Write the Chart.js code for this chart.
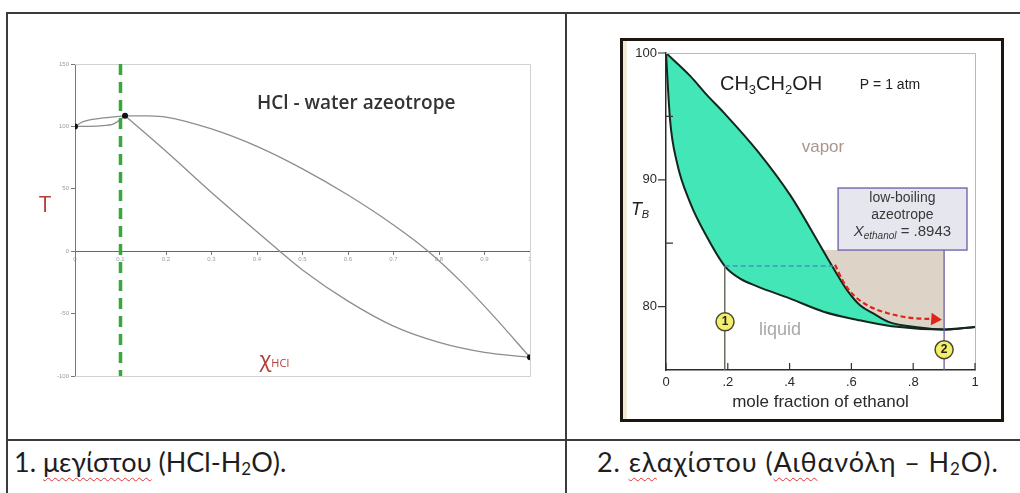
<!DOCTYPE html>
<html>
<head>
<meta charset="utf-8">
<script src="https://cdn.jsdelivr.net/npm/chart.js@4.4.1/dist/chart.umd.min.js"></script>
<style>
  html, body { margin: 0; padding: 0; background: #fff; }
  body { position: relative; width: 1020px; height: 493px; overflow: hidden; }
  .rule { position: absolute; background: #3b3b3b; }
  #hclChart { position: absolute; left: 8px; top: 14px; }
  #frame { position: absolute; left: 620px; top: 38px; width: 384px; height: 384px; box-sizing: border-box;
           border: 3px solid #1d160e; box-shadow: inset 4px 0 0 #f1ead8; }
  #ethChart { position: absolute; left: 623px; top: 41px; }
  .cap { position: absolute; top: 444px; font: 27px/36px Lato, 'Noto Sans', sans-serif; color: #1e1e1e; white-space: nowrap; }
  .cap sub { font-size: 17px; vertical-align: -3px; line-height: 0; }
  .spell { text-decoration: underline wavy #e0342f; text-decoration-thickness: 1px; text-underline-offset: 5px; }
</style>
</head>
<body>
<div class="rule" style="left:6px;top:12px;width:1014px;height:2px"></div>
<div class="rule" style="left:6px;top:12px;width:2px;height:481px"></div>
<div class="rule" style="left:565px;top:12px;width:2px;height:481px"></div>
<div class="rule" style="left:6px;top:439px;width:1014px;height:2px"></div>

<canvas id="hclChart" width="557" height="425"></canvas>
<div id="frame"></div>
<canvas id="ethChart" width="378" height="378"></canvas>

<div class="cap" style="left:14px">1. <span class="spell">μεγίστου</span> (HCl-H<sub>2</sub>O).</div>
<div class="cap" style="left:597px;letter-spacing:0.9px">2. <span class="spell">ελ</span>αχίστου (<span class="spell">Αιθ</span>ανόλη – H<sub>2</sub>O).</div>

<script>
// --- HCl / water (maximum boiling azeotrope) ---
const hclVapX = [0, 0.018, 0.055, 0.11, 0.16, 0.2, 0.3, 0.4, 0.5, 0.6, 0.7, 0.776, 0.85, 0.92, 1];
const hclVapT = [100, 103.8, 106.5, 108.5, 108.4, 107.5, 98, 84, 66, 45, 21, 0, -25, -52, -85];
const hclLiqX = [0, 0.055, 0.085, 0.11, 0.2, 0.3, 0.4, 0.45, 0.5, 0.6, 0.7, 0.8, 0.9, 1];
const hclLiqT = [100, 100.5, 102, 108.5, 80, 47, 15.5, 0, -15, -40, -60, -73, -81, -85];
const hclDotX = [0, 0.11, 1];
const hclDotT = [100, 108.5, -85];
const hclAzeoX = 0.1;
const hclTMin = -100, hclTMax = 150;

// --- ethanol / water (minimum boiling azeotrope) ---
const ethBubX = [0, 0.013, 0.035, 0.078, 0.13, 0.19, 0.24, 0.295, 0.40, 0.51, 0.62, 0.73, 0.8943, 1];
const ethBubT = [100, 94.75, 91.4, 88.2, 85.6, 83.2, 82.2, 81.6, 80.65, 79.6, 78.95, 78.45, 78.2, 78.4];
const ethDewX = [0, 0.078, 0.132, 0.187, 0.295, 0.403, 0.49, 0.54, 0.586, 0.628, 0.675, 0.72, 0.82, 0.8943, 1];
const ethDewT = [100, 98.2, 96.7, 95.3, 92.3, 88.75, 85.2, 83.1, 81.3, 80.1, 79.4, 78.8, 78.35, 78.2, 78.4];
const ethTieX = [0.19, 0.54];
const ethTieT = 83.2;
const ethShadeX = [0.51, 0.9];
const ethShadeT = 84.46;
const ethArrowX = [0.547, 0.573, 0.605, 0.66, 0.715, 0.78, 0.87];
const ethArrowT = [83.3, 82.0, 80.95, 80.0, 79.5, 79.15, 79.0];
const ethMarkX = [0.191, 0.9];
const ethMarkT = [78.8, 76.6];
const ethMarkLabels = ['1', '2'];
const ethTMin = 75, ethTMax = 100;

const pts = (xs, ys) => xs.map((x, i) => ({ x, y: Array.isArray(ys) ? ys[i] : ys }));
const sans = "'Liberation Sans', Arial, sans-serif";

Chart.defaults.font.family = sans;
Chart.defaults.animation = false;

// split a curve at the azeotrope so each branch is smoothed on its own
const hclAzeoIdx = hclVapX.indexOf(hclDotX[1]);
const hclLiqIdx = hclLiqX.indexOf(hclDotX[1]);
const hclBranches = [
  pts(hclVapX.slice(0, hclAzeoIdx + 1), hclVapT.slice(0, hclAzeoIdx + 1)),
  pts(hclVapX.slice(hclAzeoIdx), hclVapT.slice(hclAzeoIdx)),
  pts(hclLiqX.slice(0, hclLiqIdx + 1), hclLiqT.slice(0, hclLiqIdx + 1)),
  pts(hclLiqX.slice(hclLiqIdx), hclLiqT.slice(hclLiqIdx)),
];

// draws boxes and text runs at data positions; cfg is read directly
function notesPlugin(cfg) {
  return {
    id: 'notes',
    afterDatasetsDraw(chart) {
      const { ctx, scales: { x, y } } = chart;
      ctx.save();
      for (const b of cfg.boxes || []) {
        const l = x.getPixelForValue(b.x1), r = x.getPixelForValue(b.x2);
        const t = y.getPixelForValue(b.y1), bt = y.getPixelForValue(b.y2);
        ctx.fillStyle = b.fill;
        ctx.fillRect(l, t, r - l, bt - t);
        ctx.strokeStyle = b.stroke;
        ctx.lineWidth = b.lineWidth;
        ctx.strokeRect(l, t, r - l, bt - t);
      }
      ctx.textBaseline = 'middle';
      ctx.textAlign = 'left';
      for (const n of cfg.items || []) {
        const runs = Array.isArray(n.text) ? n.text : [{ t: n.text }];
        const fonts = runs.map(r => `${r.style || n.style || ''} ${r.weight || n.weight || ''} ${r.size || n.size}px ${n.family || sans}`);
        let w = 0;
        const widths = runs.map((r, i) => { ctx.font = fonts[i]; const m = ctx.measureText(r.t).width; w += m; return m; });
        let px = x.getPixelForValue(n.x);
        const py = y.getPixelForValue(n.y);
        if (n.align === 'center') px -= w / 2;
        else if (n.align === 'right') px -= w;
        ctx.fillStyle = n.color;
        runs.forEach((r, i) => {
          ctx.font = fonts[i];
          ctx.fillText(r.t, px, py + (r.dy || 0));
          px += widths[i];
        });
      }
      ctx.restore();
    }
  };
}

// light frame around the HCl plot
const hclFrame = {
  id: 'hclFrame',
  beforeDatasetsDraw(chart) {
    const { ctx, chartArea: a } = chart;
    ctx.save();
    ctx.strokeStyle = '#d2d2d2';
    ctx.lineWidth = 1;
    ctx.beginPath();
    ctx.moveTo(a.left, a.top + 0.5); ctx.lineTo(a.right + 0.5, a.top + 0.5);
    ctx.lineTo(a.right + 0.5, a.bottom + 0.5); ctx.lineTo(a.left, a.bottom + 0.5);
    ctx.stroke();
    ctx.restore();
  }
};

new Chart(document.getElementById('hclChart'), {
  type: 'line',
  data: {
    datasets: [
      { data: pts(hclDotX, hclDotT), showLine: false, pointRadius: 3, pointBackgroundColor: '#111', pointBorderWidth: 0 },
      { data: [{ x: hclAzeoX, y: hclTMax }, { x: hclAzeoX, y: hclTMin }], borderColor: '#39a83b', borderWidth: 3.5,
        borderDash: [11, 7], pointRadius: 0 },
      ...hclBranches.map(d => ({ data: d, borderColor: '#8d8d8d', borderWidth: 1.3, pointRadius: 0, cubicInterpolationMode: 'monotone' })),
    ],
  },
  options: {
    responsive: false,
    layout: { padding: { left: 20, top: 50, right: 35, bottom: 63 } },
    plugins: { legend: { display: false }, tooltip: { enabled: false } },
    scales: {
      x: {
        type: 'linear', min: 0, max: 1, position: { y: 0 },
        ticks: { stepSize: 0.1, font: { size: 6 }, color: '#9a9a9a', padding: 2, callback: v => String(+v.toFixed(1)) },
        grid: { drawOnChartArea: false, tickLength: 3, color: '#777' },
        border: { color: '#666', width: 1 },
      },
      y: {
        type: 'linear', min: hclTMin, max: hclTMax,
        ticks: { stepSize: 50, font: { size: 6 }, color: '#9a9a9a', padding: 2 },
        grid: { drawOnChartArea: false, tickLength: 4, color: '#777' },
        border: { color: '#777', width: 1 },
        afterFit(s) { s.width = 47; },
      },
    },
  },
  plugins: [hclFrame, notesPlugin({
    items: [
      { text: 'HCl - water azeotrope', x: 0.618, y: 118.3, size: 19, weight: '600', family: "'Open Sans', sans-serif",
        color: '#333', align: 'center' },
      { text: 'T', x: -0.066, y: 36.5, size: 22, family: "'Open Sans', sans-serif", color: '#b23c36', align: 'center' },
      { text: [{ t: 'χ', size: 22 }, { t: 'HCl', size: 11, dy: 3 }], x: 0.438, y: -87.7, family: "'Open Sans', sans-serif",
        color: '#b23c36', align: 'center' },
    ],
  })],
});

// axis ticks and frame for the ethanol plot
const ethAxes = {
  id: 'ethAxes',
  afterDatasetsDraw(chart) {
    const { ctx, chartArea: a, scales: { x, y } } = chart;
    ctx.save();
    ctx.strokeStyle = '#b8b8b8';
    ctx.lineWidth = 1;
    ctx.beginPath();
    ctx.moveTo(a.left, a.top + 0.5); ctx.lineTo(a.right + 0.5, a.top + 0.5); ctx.lineTo(a.right + 0.5, a.bottom);
    ctx.stroke();
    ctx.strokeStyle = '#333';
    ctx.lineWidth = 1.2;
    ctx.beginPath();
    x.ticks.forEach(t => {
      const px = x.getPixelForValue(t.value);
      ctx.moveTo(px, a.bottom); ctx.lineTo(px, a.bottom - 7);
    });
    y.ticks.forEach(t => {
      if (t.value === ethTMin) return;
      const py = y.getPixelForValue(t.value);
      if (t.value % 10 === 0) { ctx.moveTo(a.left - 8, py); ctx.lineTo(a.left, py); }
      else { ctx.moveTo(a.left, py); ctx.lineTo(a.left + 7, py); }
    });
    ctx.stroke();
    ctx.restore();
  }
};

const lastArrow = ethArrowX.length - 1;

new Chart(document.getElementById('ethChart'), {
  type: 'line',
  data: {
    datasets: [
      { data: pts(ethMarkX, ethMarkT), showLine: false, pointRadius: 9, pointBackgroundColor: '#f3ee6c',
        pointBorderColor: '#4b4a30', pointBorderWidth: 1.5 },
      { data: pts(ethArrowX, ethArrowT), borderColor: '#e0241c', borderWidth: 2.2, borderDash: [5, 3],
        cubicInterpolationMode: 'monotone', pointStyle: 'triangle',
        pointRadius: c => (c.dataIndex === lastArrow ? 5 : 0), pointRotation: 94,
        pointBackgroundColor: '#e0241c', pointBorderColor: '#e0241c' },
      { data: [{ x: ethShadeX[1], y: ethShadeT }, { x: ethShadeX[1], y: ethTMin }], borderColor: '#6a5fa2', borderWidth: 1.3, pointRadius: 0 },
      { data: [{ x: ethTieX[0], y: ethTieT }, { x: ethTieX[0], y: ethTMin }], borderColor: '#6d6d5e', borderWidth: 1, pointRadius: 0 },
      { data: pts(ethTieX, ethTieT), borderColor: '#4a90c8', borderWidth: 1.6, borderDash: [5, 3], pointRadius: 0 },
      { data: pts(ethBubX, ethBubT), borderColor: '#14271d', borderWidth: 2, pointRadius: 0, cubicInterpolationMode: 'monotone',
        fill: { target: 6 }, backgroundColor: '#43e6b6' },
      { data: pts(ethDewX, ethDewT), borderColor: '#14271d', borderWidth: 2, pointRadius: 0, cubicInterpolationMode: 'monotone' },
      { data: pts(ethShadeX, ethShadeT), borderWidth: 0, pointRadius: 0, fill: { target: 6 }, backgroundColor: '#ddd4c7' },
    ],
  },
  options: {
    responsive: false,
    layout: { padding: { left: 0, top: 12, right: 26, bottom: 0 } },
    plugins: { legend: { display: false }, tooltip: { enabled: false }, filler: { drawTime: 'beforeDatasetsDraw' } },
    scales: {
      x: {
        type: 'linear', min: 0, max: 1,
        ticks: { stepSize: 0.2, font: { size: 13 }, color: '#2a2a2a', padding: 5,
                 callback: v => (v === 0 ? '0' : v === 1 ? '1' : v.toFixed(1).replace(/^0/, '')) },
        grid: { display: false, drawTicks: false },
        border: { color: '#2b2b2b', width: 1.5 },
        title: { display: true, text: 'mole fraction of ethanol', font: { size: 17 }, color: '#2a2a2a', padding: { top: 2, bottom: 6 } },
        afterFit(s) { s.height = 49; },
      },
      y: {
        type: 'linear', min: ethTMin, max: ethTMax,
        ticks: { stepSize: 5, font: { size: 13 }, color: '#2a2a2a', padding: 9, callback: v => (v % 10 === 0 ? v : '') },
        grid: { display: false, drawTicks: false },
        border: { color: '#2b2b2b', width: 1.5 },
        afterFit(s) { s.width = 43; s.paddingTop = 0; s.paddingBottom = 0; },
      },
    },
  },
  plugins: [ethAxes, notesPlugin({
    boxes: [{ x1: 0.557, x2: 0.974, y1: 89.35, y2: 84.46, fill: '#e6e6ef', stroke: '#7a6fae', lineWidth: 1.5 }],
    items: [
      { text: [{ t: 'CH' }, { t: '3', size: 13, dy: 5 }, { t: 'CH' }, { t: '2', size: 13, dy: 5 }, { t: 'OH' }],
        x: 0.34, y: 97.48, size: 20, color: '#222', align: 'center' },
      { text: 'P = 1 atm', x: 0.725, y: 97.5, size: 14, color: '#222', align: 'center' },
      { text: 'vapor', x: 0.508, y: 92.6, size: 17, color: '#a8968a', align: 'center' },
      { text: 'liquid', x: 0.369, y: 78.15, size: 18, color: '#a8a8a8', align: 'center' },
      { text: 'low-boiling', x: 0.765, y: 88.56, size: 14, color: '#383838', align: 'center' },
      { text: 'azeotrope', x: 0.765, y: 87.22, size: 14, color: '#383838', align: 'center' },
      { text: [{ t: 'X', style: 'italic' }, { t: 'ethanol', style: 'italic', size: 10, dy: 4 }, { t: ' = .8943' }],
        x: 0.765, y: 85.88, size: 15, color: '#383838', align: 'center' },
      { text: [{ t: 'T', style: 'italic' }, { t: 'B', style: 'italic', size: 11, dy: 5 }], x: -0.084, y: 87.6, size: 18,
        color: '#222', align: 'center' },
      ...ethMarkLabels.map((t, i) => ({ text: t, x: ethMarkX[i], y: ethMarkT[i], size: 12, weight: 'bold', color: '#222', align: 'center' })),
    ],
  })],
});
</script>
</body>
</html>
